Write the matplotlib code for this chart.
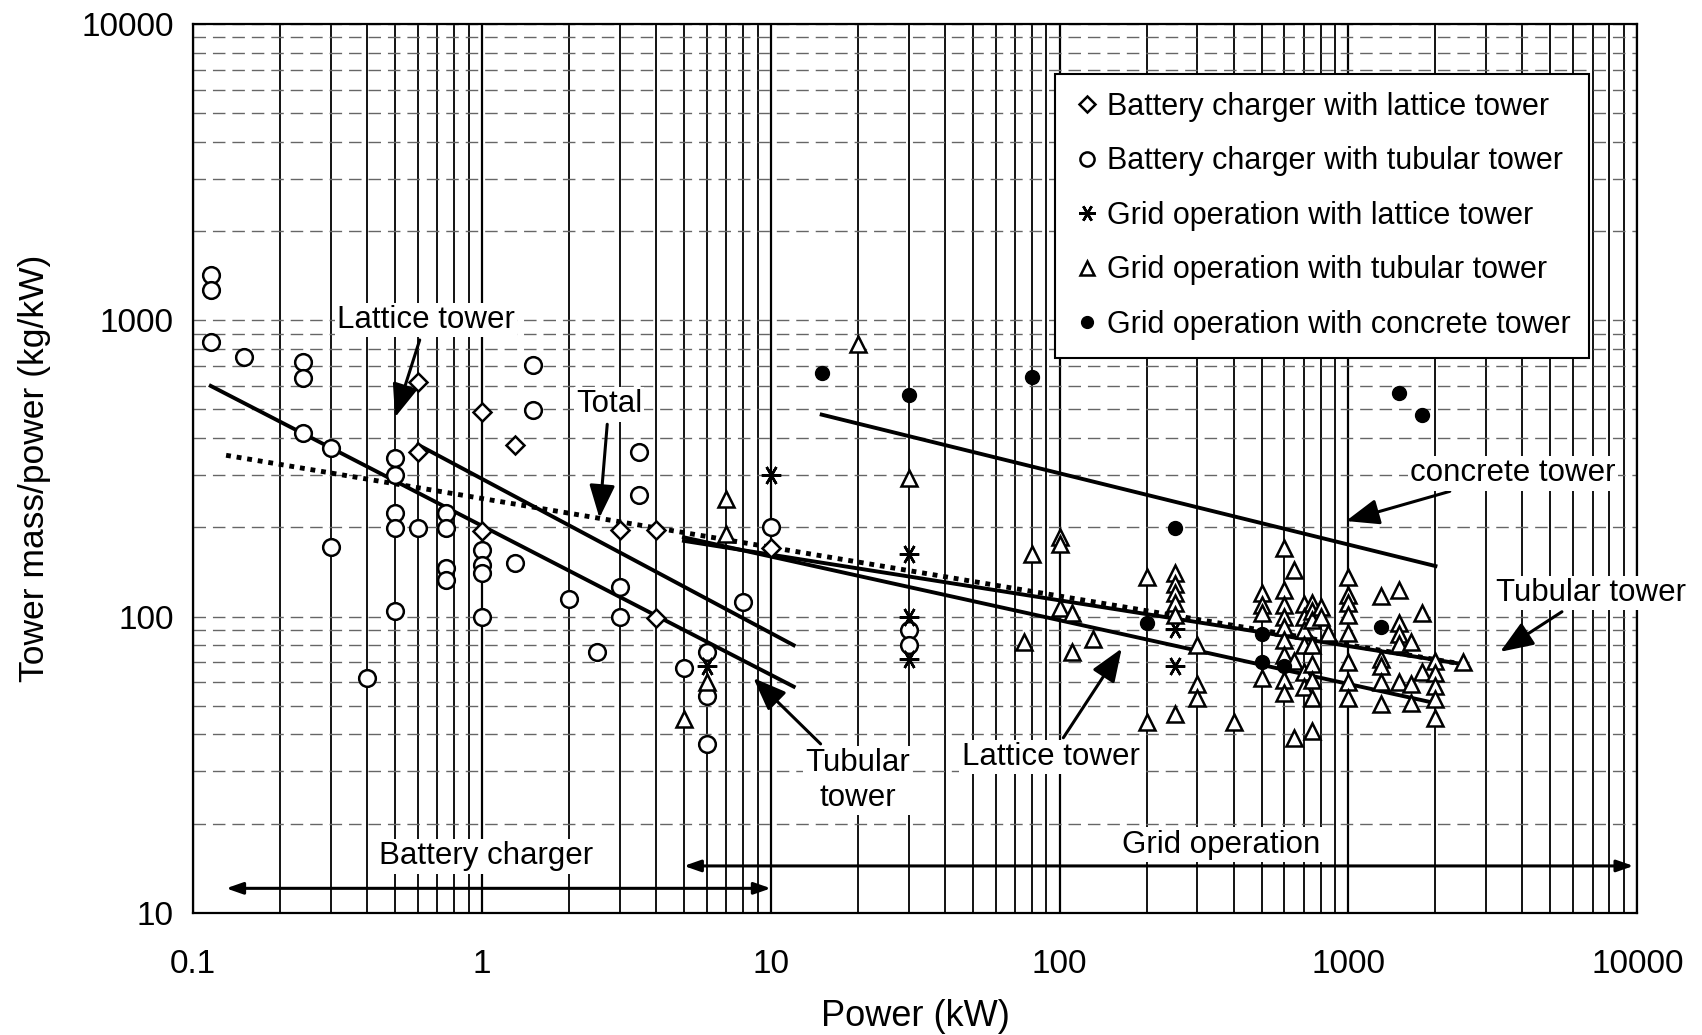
#!/usr/bin/env python3
import matplotlib.pyplot as plt
import matplotlib as mpl
from matplotlib.ticker import FixedLocator, FuncFormatter, NullFormatter

mpl.rcParams['font.family'] = ['Liberation Sans', 'DejaVu Sans']

# Battery charger with lattice tower (open diamonds)
bc_lattice_x = [0.6, 0.6, 1.0, 1.0, 1.3, 3, 4, 4, 10]
bc_lattice_y = [620, 360, 491, 195, 379, 196, 196, 99, 170]

# Battery charger with tubular tower (open circles)
bc_tubular_x = [0.115, 0.115, 0.115, 0.15, 0.24, 0.24, 0.24, 0.3, 0.3, 0.4,
                0.5, 0.5, 0.5, 0.5, 0.5, 0.6, 0.75, 0.75, 0.75, 0.75,
                1, 1, 1, 1, 1.3, 1.5, 1.5, 2, 2.5, 3, 3, 3.5, 3.5,
                5, 6, 6, 6, 8, 10, 30, 30]
bc_tubular_y = [1420, 1265, 846, 753, 724, 637, 415, 370, 172, 62,
                342, 300, 223, 199, 104, 199, 223, 199, 146, 133,
                168, 149, 140, 100, 151, 706, 498, 115, 76, 126, 100, 360, 257,
                67, 76, 54, 37, 112, 200, 90, 80]

# Grid operation with lattice tower (asterisks)
grid_lattice_x = [6, 10, 30, 30, 30, 250, 250]
grid_lattice_y = [68, 300, 163, 100, 72, 91, 68]

# Grid operation with tubular tower (open triangles)
grid_tubular_x = [5, 6, 7, 7, 20, 30, 75, 80, 100, 100, 100, 110, 110, 130,
                  200, 200, 250, 250, 250, 250, 250, 250, 300, 300, 300, 400,
                  500, 500, 500, 500,
                  600, 600, 600, 600, 600, 600, 600, 600, 600,
                  650, 650, 650, 700, 700, 700, 700, 700, 700,
                  750, 750, 750, 750, 750, 750, 750, 750, 800, 800, 850,
                  1000, 1000, 1000, 1000, 1000, 1000, 1000, 1000,
                  1300, 1300, 1300, 1300, 1300, 1500, 1500, 1500, 1500, 1500,
                  1650, 1650, 1650, 1800, 1800,
                  2000, 2000, 2000, 2000, 2000, 2500]
grid_tubular_y = [45, 60, 250, 190, 830, 293, 82, 163, 186, 176, 107, 103, 76, 84,
                  136, 44, 140, 129, 120, 111, 101, 47, 80, 59, 53, 44,
                  120, 109, 103, 62,
                  170, 123, 109, 100, 92, 83, 74, 61, 55,
                  144, 71, 39, 110, 100, 90, 80, 65, 58,
                  111, 104, 97, 80, 69, 61, 53, 41, 108, 100, 88,
                  136, 118, 111, 101, 88, 70, 60, 53,
                  117, 72, 68, 60, 50.5, 123, 95, 87, 81, 60,
                  82, 59, 51, 103, 65,
                  71, 64.5, 58.5, 52.6, 45.5, 70]

# Grid operation with concrete tower (filled dots)
grid_concrete_x = [15, 30, 80, 200, 250, 500, 500, 600, 1300, 1500, 1800]
grid_concrete_y = [661, 560, 641, 95, 199, 87, 70, 68, 92, 568, 479]

# Fitted trend lines (end points)
fit_bc_lattice_x, fit_bc_lattice_y = [0.6, 12], [380, 80]
fit_bc_tubular_x, fit_bc_tubular_y = [0.115, 12], [600, 58]
fit_total_x, fit_total_y = [0.13, 2500], [350, 69]
fit_grid_tubular_x, fit_grid_tubular_y = [5, 2500], [180, 69]
fit_grid_lattice_x, fit_grid_lattice_y = [5, 2000], [185, 51]
fit_concrete_x, fit_concrete_y = [15, 2000], [480, 148]

x_ticks = [0.1, 1, 10, 100, 1000, 10000]
y_ticks = [10, 100, 1000, 10000]

TXT = 22.5
BOX = dict(facecolor='white', edgecolor='none', pad=1.5)


def arrow(ax, text, xy, xytext):
    ax.annotate(text, xy=xy, xytext=xytext, fontsize=TXT, ha='center', va='center',
                bbox=BOX,
                arrowprops=dict(arrowstyle='-|>,head_length=0.9,head_width=0.35',
                                color='black', lw=2.2, shrinkA=2, shrinkB=0))


def main():
    fig = plt.figure(figsize=(17.02, 10.35), dpi=100)
    ax = fig.add_axes([0.1135, 0.118, 0.8485, 0.859])
    ax.set_xscale('log')
    ax.set_yscale('log')
    ax.set_xlim(0.1, 10000)
    ax.set_ylim(10, 10000)

    # log paper grid
    ax.grid(True, which='major', axis='x', color='black', lw=1.6)
    ax.grid(True, which='minor', axis='x', color='black', lw=1.3)
    ax.grid(True, which='both', axis='y', color='0.4', lw=1.0, ls=(0, (9, 5)))
    ax.set_axisbelow(True)

    ax.xaxis.set_major_locator(FixedLocator(x_ticks))
    ax.yaxis.set_major_locator(FixedLocator(y_ticks))
    fmt = FuncFormatter(lambda v, p: f"{v:g}")
    ax.xaxis.set_major_formatter(fmt)
    ax.yaxis.set_major_formatter(fmt)
    ax.xaxis.set_minor_formatter(NullFormatter())
    ax.yaxis.set_minor_formatter(NullFormatter())
    ax.tick_params(which='both', length=0, labelsize=24)
    ax.tick_params(axis='x', pad=26)
    ax.tick_params(axis='y', pad=14)
    for s in ax.spines.values():
        s.set_linewidth(1.6)

    ms = 12
    ax.plot(bc_lattice_x, bc_lattice_y, 'D', ms=9, mfc='white', mec='black', mew=1.8,
            ls='none', label='Battery charger with lattice tower', zorder=4)
    ax.plot(bc_tubular_x, bc_tubular_y, 'o', ms=ms, mfc='white', mec='black', mew=1.8,
            ls='none', label='Battery charger with tubular tower', zorder=4)
    ax.plot(grid_lattice_x, grid_lattice_y, marker=(6, 2, 90), ms=14, color='black',
            mew=1.8, ls='none', label='Grid operation with lattice tower', zorder=4)
    ax.plot(grid_tubular_x, grid_tubular_y, '^', ms=ms, mfc='white', mec='black', mew=1.8,
            ls='none', label='Grid operation with tubular tower', zorder=4)
    ax.plot(grid_concrete_x, grid_concrete_y, 'o', ms=10, color='black',
            ls='none', label='Grid operation with concrete tower', zorder=4)

    # trend lines
    ax.plot(fit_bc_lattice_x, fit_bc_lattice_y, color='black', lw=2.8, zorder=3)
    ax.plot(fit_bc_tubular_x, fit_bc_tubular_y, color='black', lw=2.8, zorder=3)
    ax.plot(fit_grid_tubular_x, fit_grid_tubular_y, color='black', lw=2.8, zorder=3)
    ax.plot(fit_grid_lattice_x, fit_grid_lattice_y, color='black', lw=2.8, zorder=3)
    ax.plot(fit_concrete_x, fit_concrete_y, color='black', lw=2.8, zorder=3)
    ax.plot(fit_total_x, fit_total_y, color='black', lw=3.5, ls=(0, (1, 1.2)), zorder=3)

    # annotations
    arrow(ax, 'Lattice tower', xy=(0.5, 470), xytext=(0.64, 1000))
    arrow(ax, 'Total', xy=(2.55, 215), xytext=(2.75, 520))
    arrow(ax, 'Tubular\ntower', xy=(8.7, 62), xytext=(20, 28))
    arrow(ax, 'Lattice tower', xy=(164, 78), xytext=(93, 33.5))
    arrow(ax, 'concrete tower', xy=(980, 210), xytext=(3700, 304))
    arrow(ax, 'Tubular tower', xy=(3350, 76), xytext=(6900, 120))

    ax.annotate('', xy=(0.13, 12.1), xytext=(10, 12.1),
                arrowprops=dict(arrowstyle='<|-|>,head_length=1.0,head_width=0.35',
                                color='black', lw=2.2, shrinkA=0, shrinkB=0))
    ax.text(1.03, 15.5, 'Battery charger', fontsize=TXT, ha='center', va='center', bbox=BOX)
    ax.annotate('', xy=(5, 14.4), xytext=(9700, 14.4),
                arrowprops=dict(arrowstyle='<|-|>,head_length=1.0,head_width=0.35',
                                color='black', lw=2.2, shrinkA=0, shrinkB=0))
    ax.text(363, 17, 'Grid operation', fontsize=TXT, ha='center', va='center', bbox=BOX)

    leg = ax.legend(loc='upper left', bbox_to_anchor=(0.597, 0.944), fontsize=22,
                    frameon=True, fancybox=False, edgecolor='black', framealpha=1,
                    handletextpad=0.2, handlelength=0.9, labelspacing=0.8,
                    borderpad=0.6, borderaxespad=0, markerscale=0.85)
    leg.get_frame().set_linewidth(1.5)

    ax.set_xlabel('Power (kW)', fontsize=26, labelpad=14)
    ax.set_ylabel('Tower mass/power (kg/kW)', fontsize=25.5, labelpad=22)

    fig.savefig('out.png', dpi=100, facecolor='white')
    plt.close(fig)


if __name__ == "__main__":
    main()
